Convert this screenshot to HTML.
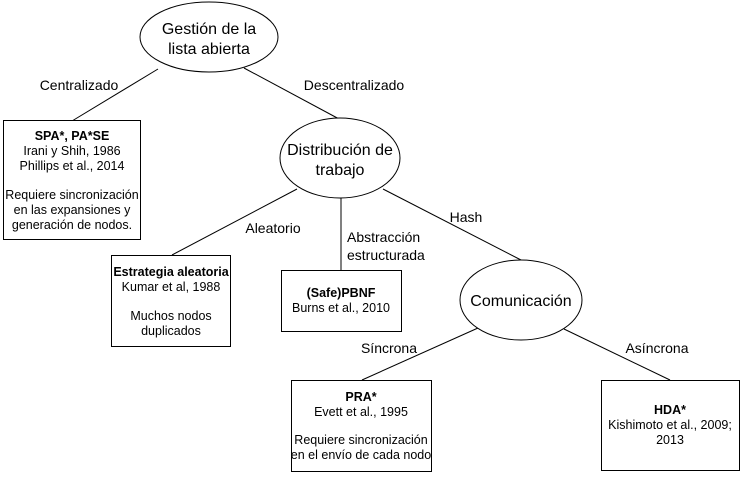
<!DOCTYPE html>
<html><head><meta charset="utf-8"><style>
body{margin:0;background:#fff;}
svg text{font-family:"Liberation Sans",sans-serif;fill:#000;}
</style></head><body>
<svg width="742" height="472" viewBox="0 0 742 472" xmlns="http://www.w3.org/2000/svg">
<g stroke="#000" stroke-width="1" fill="none">
<line x1="158" y1="69" x2="72" y2="121"/>
<line x1="244" y1="68" x2="341" y2="120"/>
<line x1="297" y1="189" x2="172" y2="255"/>
<line x1="341" y1="198" x2="341" y2="270"/>
<line x1="383" y1="189" x2="521" y2="260"/>
<line x1="478" y1="328" x2="362" y2="380"/>
<line x1="564" y1="329" x2="670" y2="380"/>
<ellipse cx="209" cy="37" rx="69" ry="35" fill="#fff"/>
<ellipse cx="340" cy="158" rx="60" ry="40" fill="#fff"/>
<ellipse cx="521" cy="300" rx="61" ry="40" fill="#fff"/>
<rect x="3.5" y="120.5" width="137" height="119" fill="#fff"/>
<rect x="111.5" y="255.5" width="119" height="91" fill="#fff"/>
<rect x="281.5" y="270.5" width="120" height="61" fill="#fff"/>
<rect x="291.5" y="380.5" width="140" height="91" fill="#fff"/>
<rect x="601.5" y="380.5" width="138" height="90" fill="#fff"/>
</g>
<g font-size="16" text-anchor="middle">
<text x="209" y="34">Gestión de la</text>
<text x="209" y="54">lista abierta</text>
<text x="340" y="155">Distribución de</text>
<text x="340" y="175">trabajo</text>
<text x="521" y="306">Comunicación</text>
</g>
<g font-size="14" text-anchor="middle">
<text x="79" y="90">Centralizado</text>
<text x="354" y="90">Descentralizado</text>
<text x="273" y="233">Aleatorio</text>
<text x="466" y="222">Hash</text>
<text x="389" y="353">Síncrona</text>
<text x="657" y="353">Asíncrona</text>
</g>
<g font-size="14" text-anchor="start">
<text x="347" y="242">Abstracción</text>
<text x="347" y="260">estructurada</text>
</g>
<g font-size="12.5" text-anchor="middle">
<text x="72" y="140" font-weight="bold">SPA*, PA*SE</text>
<text x="72" y="155">Irani y Shih, 1986</text>
<text x="72" y="170">Phillips et al., 2014</text>
<text x="72" y="199">Requiere sincronización</text>
<text x="72" y="214">en las expansiones y</text>
<text x="72" y="229">generación de nodos.</text>
<text x="171" y="276" font-weight="bold">Estrategia aleatoria</text>
<text x="171" y="291">Kumar et al, 1988</text>
<text x="171" y="320">Muchos nodos</text>
<text x="171" y="335">duplicados</text>
<text x="341" y="297" font-weight="bold">(Safe)PBNF</text>
<text x="341" y="312">Burns et al., 2010</text>
<text x="361" y="401" font-weight="bold">PRA*</text>
<text x="361" y="416">Evett et al., 1995</text>
<text x="361" y="444">Requiere sincronización</text>
<text x="361" y="459">en el envío de cada nodo</text>
<text x="670" y="414" font-weight="bold">HDA*</text>
<text x="670" y="429">Kishimoto et al., 2009;</text>
<text x="670" y="444">2013</text>
</g>
</svg>
</body></html>
